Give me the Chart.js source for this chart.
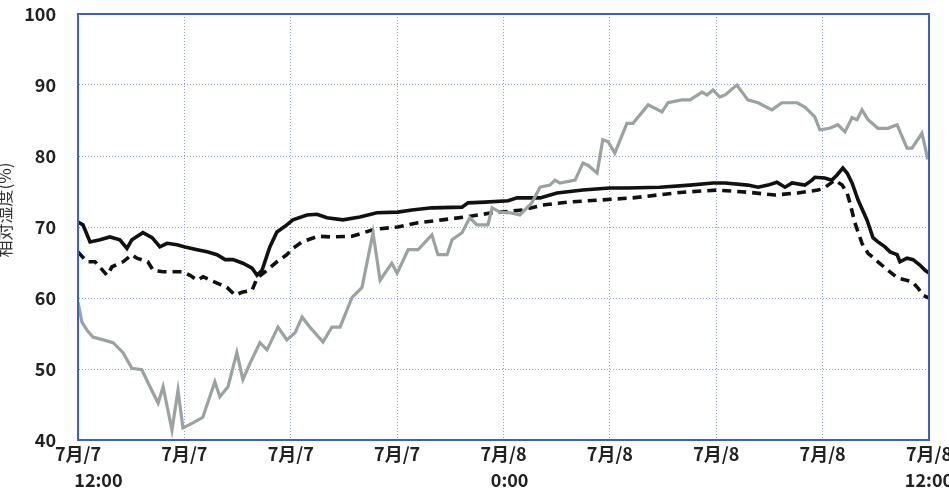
<!DOCTYPE html>
<html>
<head>
<meta charset="utf-8">
<script src="https://cdn.jsdelivr.net/npm/chart.js@4/dist/chart.umd.min.js"></script>
<style>
  html, body { margin: 0; padding: 0; background: #fff; overflow: hidden; }
  #wrap { position: relative; width: 949px; height: 499px; }
</style>
</head>
<body>
<div id="wrap"><canvas id="canvas"></canvas></div>
<script>
// hours after 7/7 12:00
const tickLabels = [
    ['7月/7', '          12:00'],
    ['7月/7'],
    ['7月/7'],
    ['7月/7'],
    ['7月/8', '   0:00'],
    ['7月/8'],
    ['7月/8'],
    ['7月/8'],
    ['7月/8', '12:00']
]

const grayHours = [0, 0.11, 0.25, 0.42, 0.71, 0.99, 1.27, 1.52, 1.8, 2.03, 2.26, 2.4, 2.65, 2.82, 2.96, 3.24, 3.52, 3.86, 4.0, 4.23,
    4.48, 4.65, 4.85, 5.13, 5.33, 5.64, 5.89, 6.12, 6.32, 6.54, 6.91, 7.16, 7.39, 7.73, 8.01, 8.32, 8.52, 8.85, 9.0, 9.31,
    9.59, 9.98, 10.15, 10.41, 10.55, 10.83, 11.05, 11.25, 11.56, 11.68, 11.9, 12.18, 12.46, 12.8, 13.03, 13.31, 13.45, 13.59, 14.02, 14.24,
    14.38, 14.64, 14.8, 14.95, 15.14, 15.48, 15.65, 16.08, 16.47, 16.64, 17.03, 17.26, 17.6, 17.74, 17.91, 18.1, 18.25, 18.58, 18.89, 19.18,
    19.57, 19.85, 20.28, 20.5, 20.78, 20.92, 21.2, 21.43, 21.63, 21.83, 21.97, 22.11, 22.28, 22.56, 22.84, 23.1, 23.38, 23.52, 23.8, 23.89, 23.96]
const grayValues = [59.4, 56.6, 55.5, 54.5, 54.1, 53.7, 52.3, 50.1, 49.9, 47.5, 45.2, 47.5, 41.4, 47, 41.7, 42.4, 43.2, 48.2, 46.1, 47.5,
    52.3, 48.5, 50.8, 53.7, 52.7, 55.9, 54.1, 55.1, 57.3, 55.9, 53.8, 55.9, 55.9, 60.1, 61.5, 69.2, 62.5, 64.9, 63.5, 66.8,
    66.8, 68.9, 66.1, 66.1, 68.2, 69.2, 71.3, 70.3, 70.3, 72.7, 72.1, 72, 71.7, 73.4, 75.6, 75.9, 76.6, 76.2, 76.6, 79,
    78.7, 77.6, 82.3, 82, 80.4, 84.6, 84.6, 87.2, 86.2, 87.5, 87.9, 87.9, 89, 88.6, 89.3, 88.3, 88.6, 90, 87.9, 87.5,
    86.5, 87.5, 87.5, 86.9, 85.5, 83.7, 83.9, 84.4, 83.4, 85.4, 85.1, 86.5, 85.1, 83.9, 83.9, 84.4, 81.1, 81.1, 83.2, 81.3, 79.5]

const solidHours = [0, 0.14, 0.34, 0.62, 0.9, 1.18, 1.38, 1.52, 1.83, 2.09, 2.31, 2.51, 2.79, 3.02, 3.36, 3.64, 3.92, 4.15, 4.37, 4.65,
    4.91, 5.05, 5.19, 5.41, 5.61, 5.89, 6.06, 6.46, 6.74, 7.02, 7.47, 7.95, 8.43, 9.02, 9.42, 9.98, 10.83, 11.0, 11.48, 12.13,
    12.38, 13.03, 13.51, 14.24, 15.0, 15.48, 16.41, 17.26, 17.91, 18.25, 18.89, 19.18, 19.46, 19.71, 19.94, 20.14, 20.5, 20.7, 20.78, 21.06,
    21.26, 21.4, 21.57, 21.69, 21.83, 22.0, 22.25, 22.42, 22.56, 22.76, 22.9, 23.1, 23.18, 23.38, 23.55, 23.75, 23.89, 24.0]
const solidValues = [70.7, 70.3, 67.9, 68.2, 68.6, 68.2, 67, 68.2, 69.2, 68.5, 67.2, 67.7, 67.5, 67.2, 66.8, 66.5, 66.1, 65.4, 65.4, 64.9,
    64.2, 63.2, 63.9, 67.2, 69.3, 70.3, 71, 71.7, 71.8, 71.3, 71, 71.4, 72, 72.1, 72.4, 72.7, 72.8, 73.4, 73.5, 73.7,
    74.1, 74.1, 74.8, 75.2, 75.5, 75.5, 75.6, 75.9, 76.2, 76.2, 75.9, 75.6, 75.9, 76.3, 75.6, 76.2, 75.9, 76.6, 77, 76.9,
    76.6, 77.3, 78.3, 77.6, 76.2, 73.8, 71, 68.5, 67.9, 67.2, 66.5, 66.1, 65.1, 65.6, 65.4, 64.6, 63.9, 63.5]

const dashHours = [0, 0.25, 0.48, 0.82, 0.96, 1.27, 1.52, 1.66, 1.97, 2.12, 2.4, 2.68, 2.96, 3.16, 3.36, 3.53, 3.92, 4.2, 4.43, 4.62,
    4.91, 5.05, 5.33, 5.61, 5.89, 6.06, 6.32, 6.77, 7.16, 7.73, 8.38, 9.02, 9.59, 10.27, 10.91, 11.68, 12.13, 12.55, 13.11, 13.79,
    14.72, 15.65, 16.33, 17.06, 18.02, 18.89, 19.66, 20.3, 20.87, 21.07, 21.35, 21.55, 21.69, 21.77, 21.91, 22.11, 22.28, 22.56, 22.84, 23.12,
    23.52, 23.69, 23.83, 24.0]
const dashValues = [66.5, 65.1, 65.1, 63.2, 64.4, 65.1, 66.1, 65.6, 65.1, 63.9, 63.7, 63.7, 63.7, 63.2, 62.5, 63, 62.1, 61.5, 60.4, 60.8,
    61.1, 62.8, 63.9, 65.1, 66.1, 67, 67.9, 68.7, 68.6, 68.7, 69.7, 70, 70.6, 71, 71.4, 72, 72.2, 72.4, 73.1, 73.5,
    73.8, 74.1, 74.5, 74.9, 75.2, 74.9, 74.5, 74.8, 75.2, 75.6, 76.6, 75.9, 74.8, 73.4, 70.6, 67.7, 66.3, 65.1, 63.9, 62.8,
    62.3, 61.4, 60.4, 60]

const pts = (hs, vs) => hs.map((h, i) => ({ x: h, y: vs[i] }))

const data = {
    datasets: [
        {
            label: 'gray',
            data: pts(grayHours, grayValues),
            borderColor: '#9aa3a1',
            borderWidth: 3.2,
            pointRadius: 0,
            tension: 0,
        },
        {
            label: 'solid',
            data: pts(solidHours, solidValues),
            borderColor: '#111111',
            borderWidth: 3.6,
            pointRadius: 0,
            tension: 0,
        },
        {
            label: 'dash',
            data: pts(dashHours, dashValues),
            borderColor: '#111111',
            borderWidth: 3.6,
            borderDash: [9, 6],
            pointRadius: 0,
            tension: 0,
        }
    ]
}

// blue frame round the plot
const frame = {
    id: 'frame',
    afterDraw(chart) {
        const a = chart.chartArea
        const ctx = chart.ctx
        ctx.save()
        ctx.strokeStyle = '#3f5fc8'
        ctx.lineWidth = 2
        ctx.strokeRect(a.left, a.top, a.right - a.left, a.bottom - a.top)
        ctx.restore()
    }
}

const tickFont = { family: "'Liberation Sans Narrow', 'Noto Sans CJK JP', sans-serif", size: 18, weight: 'bold' }

const config = {
    type: 'line',
    data: data,
    options: {
        responsive: true,
        maintainAspectRatio: false,
        animation: false,
        layout: { padding: { top: 14, right: 20, left: 0, bottom: 0 } },
        plugins: { legend: { display: false }, tooltip: { enabled: false } },
        scales: {
            x: {
                type: 'linear',
                min: 0,
                max: 24,
                afterFit: (s) => { s.height = 59; s.paddingLeft = 0; s.paddingRight = 0 },
                afterBuildTicks: (s) => { s.ticks = tickLabels.map((_, i) => ({ value: i * 3 })) },
                ticks: {
                    stepSize: 3,
                    maxRotation: 0,
                    autoSkip: false,
                    padding: 1,
                    color: '#222',
                    font: { ...tickFont, lineHeight: 1.45 },
                    callback: (v) => tickLabels[Math.round(v / 3)]
                },
                grid: { color: '#8e9be3', drawTicks: false },
                border: { color: '#3f5fc8', width: 2, dash: [1, 2] }
            },
            y: {
                min: 40,
                max: 100,
                afterFit: (s) => { s.width = 78; s.paddingTop = 0; s.paddingBottom = 0 },
                ticks: { stepSize: 10, padding: 22, color: '#222', font: tickFont },
                grid: { color: '#8e9be3', drawTicks: false },
                border: { color: '#3f5fc8', width: 2, dash: [1, 2] },
                title: {
                    display: true,
                    text: '　　相対湿度(%)',
                    color: '#333',
                    padding: { top: -6, bottom: 0 },
                    font: { family: "'Noto Sans CJK JP', sans-serif", size: 17 }
                }
            }
        }
    },
    plugins: [frame]
}
const canvas = document.getElementById('canvas')
const chart = new Chart(canvas, config)
</script>
</body>
</html>
